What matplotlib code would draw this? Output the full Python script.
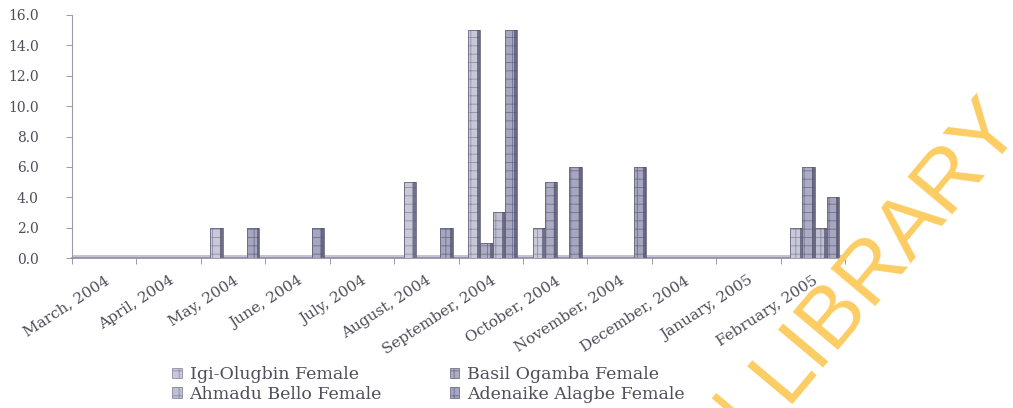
import numpy as np
import matplotlib
matplotlib.use("Agg")
import matplotlib.pyplot as plt
from matplotlib.patches import Patch

# Monthly cases per site
months = ["March, 2004", "April, 2004", "May, 2004", "June, 2004", "July, 2004",
          "August, 2004", "September, 2004", "October, 2004", "November, 2004",
          "December, 2004", "January, 2005", "February, 2005"]
igi_olugbin = [0, 0, 2, 0, 0, 5, 15, 2, 0, 0, 0, 2]
basil_ogamba = [0, 0, 0, 0, 0, 0, 1, 5, 0, 0, 0, 6]
ahmadu_bello = [0, 0, 0, 0, 0, 0, 3, 0, 0, 0, 0, 2]
adenaike_alagbe = [0, 0, 2, 2, 0, 2, 15, 6, 6, 0, 0, 4]
series_names = ["Igi-Olugbin Female", "Basil Ogamba Female",
                "Ahmadu Bello Female", "Adenaike Alagbe Female"]
y_ticks = [0, 2, 4, 6, 8, 10, 12, 14, 16]

plt.rcParams["hatch.linewidth"] = 0.6

W, H = 1013, 408
fig = plt.figure(figsize=(W / 100, H / 100), dpi=100)
fig.patch.set_facecolor("white")
ax = fig.add_axes([72 / W, 150 / H, 773 / W, 243 / H])

text_color = "#4e4e5c"
faces = ["#c8c8d8", "#acacc2", "#c0c0d2", "#a6a6be"]
hatch_col = ["#8e8ea8", "#74748f", "#8888a4", "#6e6e92"]
side_col = "#55556f"

series = [igi_olugbin, basil_ogamba, ahmadu_bello, adenaike_alagbe]
x = np.arange(len(months))
bw = 0.19
for i, vals in enumerate(series):
    xi = x + (i - 1.5) * bw + 0.03
    ax.bar(xi, vals, width=bw, color=faces[i], edgecolor=hatch_col[i],
           hatch="++", linewidth=0.0, zorder=3)
    ax.bar(xi, vals, width=bw, fill=False, edgecolor="#66667f",
           linewidth=0.6, zorder=4)
    # darker right face of each column
    ax.bar(xi + bw * 0.38, vals, width=bw * 0.24, color=side_col,
           linewidth=0, alpha=0.75, zorder=4)

# floor band along the category axis
ax.axhspan(0, 0.18, color="#c4c4d0", zorder=2, lw=0)

ax.set_xlim(-0.5, len(months) - 0.5)
ax.set_ylim(0, 16)
ax.set_yticks(y_ticks)
ax.set_yticklabels([f"{v:.1f}" for v in y_ticks], family="DejaVu Serif",
                   fontsize=10, color=text_color)
ax.tick_params(axis="y", direction="out", length=4, width=0.7,
               color="#9a9aa8", pad=20)

ax.set_xticks(x)
ax.set_xticklabels(months, rotation=33, ha="right", rotation_mode="anchor",
                   family="DejaVu Serif", fontsize=11, color=text_color)
ax.tick_params(axis="x", which="major", length=0, pad=11)
ax.set_xticks(np.arange(len(months) + 1) - 0.5, minor=True)
ax.tick_params(axis="x", which="minor", direction="out", length=4,
               width=0.7, color="#9a9aa8")

for s in ("top", "right"):
    ax.spines[s].set_visible(False)
ax.spines["left"].set_color("#9a9aa8")
ax.spines["left"].set_linewidth(0.8)
ax.spines["left"].set_linestyle((0, (1, 1)))
ax.spines["bottom"].set_color("#8c8ca0")
ax.spines["bottom"].set_linewidth(1.2)

handles = [Patch(facecolor=faces[i], edgecolor=hatch_col[i], hatch="++",
                 linewidth=0.6) for i in range(4)]
order = [0, 2, 1, 3]
leg = fig.legend([handles[i] for i in order], [series_names[i] for i in order],
                 ncol=2, loc="upper left", bbox_to_anchor=(160 / W, 1 - 354 / H),
                 frameon=False, prop={"family": "DejaVu Serif", "size": 12.5},
                 handlelength=0.55, handleheight=0.55, handletextpad=0.45,
                 columnspacing=3.9, labelspacing=0.15, borderpad=0.2)
for t in leg.get_texts():
    t.set_color(text_color)

# library watermark
wm_color = "#fccd64"
ang = 50
fig.text(785 / W, 1 - 404 / H, "LIBRARY", family="Liberation Sans",
         fontsize=62, color=wm_color, rotation=ang, rotation_mode="anchor",
         ha="left", va="baseline", zorder=10)
fig.text(767 / W, 1 - 425 / H, "UNIVERSITY OF IBADAN", family="Liberation Sans",
         fontsize=62, color=wm_color, rotation=ang, rotation_mode="anchor",
         ha="right", va="baseline", zorder=10)

fig.savefig("out.png", dpi=100, facecolor="white")
